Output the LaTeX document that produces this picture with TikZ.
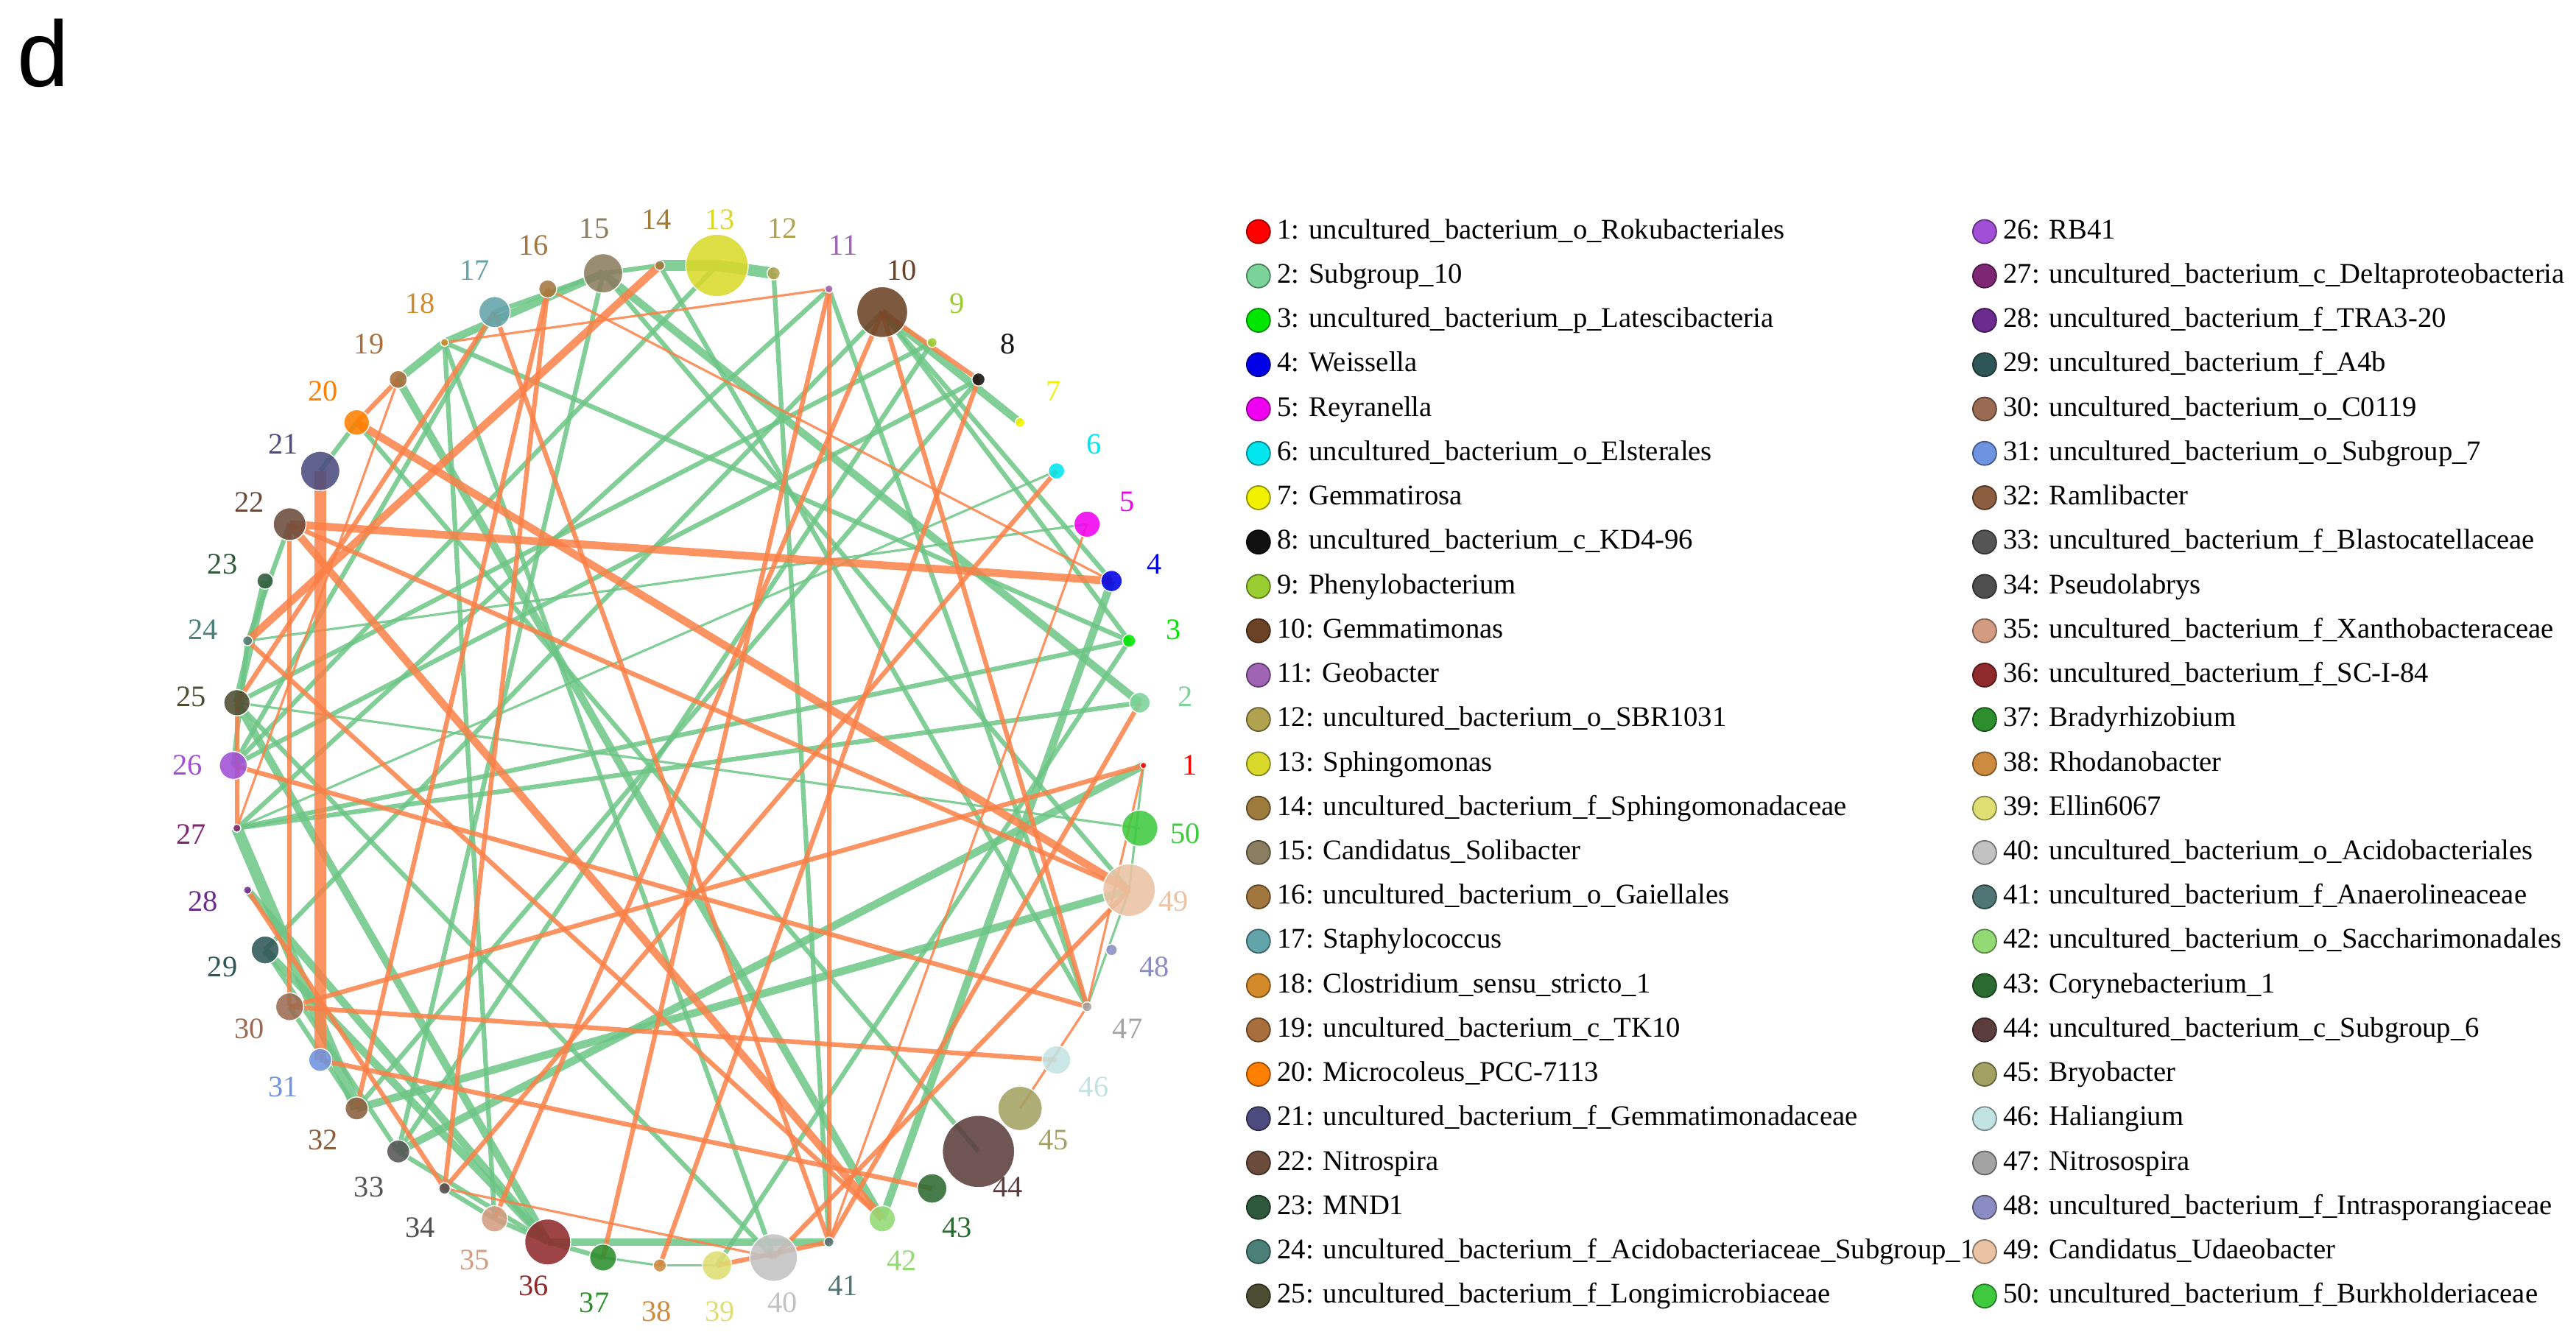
\documentclass[tikz,border=0pt]{standalone}
\usepackage{fontspec}
\setmainfont{Liberation Serif}
\newfontfamily\headfont{Liberation Sans}
\usetikzlibrary{positioning,backgrounds}
\definecolor{gcol}{HTML}{6CC585}
\definecolor{ocol}{HTML}{FB8047}
\definecolor{c1}{HTML}{FF0000}
\definecolor{c2}{HTML}{7BD39A}
\definecolor{c3}{HTML}{00E600}
\definecolor{c4}{HTML}{0000E6}
\definecolor{c5}{HTML}{F000F0}
\definecolor{c6}{HTML}{00E5EE}
\definecolor{c7}{HTML}{F2F200}
\definecolor{c8}{HTML}{111111}
\definecolor{c9}{HTML}{9ACD32}
\definecolor{c10}{HTML}{6B4226}
\definecolor{c11}{HTML}{A064B4}
\definecolor{c12}{HTML}{B0A24E}
\definecolor{c13}{HTML}{D9D92B}
\definecolor{c14}{HTML}{9C7B3C}
\definecolor{c15}{HTML}{8B7D60}
\definecolor{c16}{HTML}{A2773F}
\definecolor{c17}{HTML}{63A3AA}
\definecolor{c18}{HTML}{D28A2A}
\definecolor{c19}{HTML}{A86E3C}
\definecolor{c20}{HTML}{FF7F00}
\definecolor{c21}{HTML}{4B4B7D}
\definecolor{c22}{HTML}{6B4B3B}
\definecolor{c23}{HTML}{2E5A3B}
\definecolor{c24}{HTML}{4B8079}
\definecolor{c25}{HTML}{4D4D33}
\definecolor{c26}{HTML}{A04FD6}
\definecolor{c27}{HTML}{7D2774}
\definecolor{c28}{HTML}{6B2B8F}
\definecolor{c29}{HTML}{2F5656}
\definecolor{c30}{HTML}{9A6B52}
\definecolor{c31}{HTML}{6E93E0}
\definecolor{c32}{HTML}{8A5E3E}
\definecolor{c33}{HTML}{555555}
\definecolor{c34}{HTML}{4F4F4F}
\definecolor{c35}{HTML}{D39C82}
\definecolor{c36}{HTML}{8E2A2C}
\definecolor{c37}{HTML}{2C8E2C}
\definecolor{c38}{HTML}{CD8B3F}
\definecolor{c39}{HTML}{DEDE72}
\definecolor{c40}{HTML}{C2C2C2}
\definecolor{c41}{HTML}{4F7575}
\definecolor{c42}{HTML}{93DA74}
\definecolor{c43}{HTML}{2B6A31}
\definecolor{c44}{HTML}{5C3D3D}
\definecolor{c45}{HTML}{A3A263}
\definecolor{c46}{HTML}{C3E2E2}
\definecolor{c47}{HTML}{A3A3A3}
\definecolor{c48}{HTML}{8C8CC4}
\definecolor{c49}{HTML}{EAC3A4}
\definecolor{c50}{HTML}{3FC93F}
\begin{document}
\begin{tikzpicture}[x=0.022309cm, y=-0.022309cm,
        taxon/.style={circle, inner sep=0pt, draw=white, line width=0.4pt, fill opacity=0.88},
        sz/.style={minimum size=#1*0.04462cm},
        num/.style={inner sep=0pt, font=\fontsize{11.5}{12}\selectfont},
        keydot/.style={circle, inner sep=0pt, minimum size=0.32cm, line width=0.5pt},
        keytext/.style={inner sep=0pt, text height=8pt, text depth=2.5pt, font=\fontsize{11}{13}\selectfont},
        gthin/.style={draw=gcol, line width=0.9pt, opacity=0.85},
        gmid/.style={draw=gcol, line width=1.8pt, opacity=0.85},
        gthick/.style={draw=gcol, line width=3pt, opacity=0.85},
        gfat/.style={draw=gcol, line width=4.4pt, opacity=0.85},
        othin/.style={draw=ocol, line width=0.9pt, opacity=0.85},
        omid/.style={draw=ocol, line width=1.8pt, opacity=0.85},
        othick/.style={draw=ocol, line width=3pt, opacity=0.85},
        ofat/.style={draw=ocol, line width=4.4pt, opacity=0.85},
      ]
      \useasboundingbox (0,0) rectangle (1568,817.6);
      \node[anchor=base west, inner sep=0pt, font=\headfont\fontsize{36}{40}\selectfont] (tag) at (10,52.5) {d};

      %Nodes
      \node[taxon, sz=2, fill=c1] (n1) at (696,466) {};
      \node[taxon, sz=6.3, fill=c2] (n2) at (693.8,427.8) {};
      \node[taxon, sz=4, fill=c3] (n3) at (687.3,390.1) {};
      \node[taxon, sz=6.5, fill=c4] (n4) at (676.6,353.7) {};
      \node[taxon, sz=8, fill=c5] (n5) at (661.7,319.1) {};
      \node[taxon, sz=5, fill=c6] (n6) at (643.1,286.7) {};
      \node[taxon, sz=3, fill=c7] (n7) at (620.9,257.2) {};
      \node[taxon, sz=4, fill=c8] (n8) at (595.6,231.0) {};
      \node[taxon, sz=3, fill=c9] (n9) at (567.4,208.5) {};
      \node[taxon, sz=15.5, fill=c10] (n10) at (537.0,190.0) {};
      \node[taxon, sz=2.5, fill=c11] (n11) at (504.6,175.9) {};
      \node[taxon, sz=4, fill=c12] (n12) at (470.9,166.4) {};
      \node[taxon, sz=19, fill=c13] (n13) at (436.4,161.6) {};
      \node[taxon, sz=3, fill=c14] (n14) at (401.6,161.6) {};
      \node[taxon, sz=12, fill=c15] (n15) at (367.1,166.4) {};
      \node[taxon, sz=5.5, fill=c16] (n16) at (333.4,175.9) {};
      \node[taxon, sz=9.5, fill=c17] (n17) at (301.0,190.0) {};
      \node[taxon, sz=2.5, fill=c18] (n18) at (270.6,208.5) {};
      \node[taxon, sz=5.5, fill=c19] (n19) at (242.4,231.0) {};
      \node[taxon, sz=7.8, fill=c20] (n20) at (217.1,257.2) {};
      \node[taxon, sz=12, fill=c21] (n21) at (194.9,286.7) {};
      \node[taxon, sz=10, fill=c22] (n22) at (176.3,319.1) {};
      \node[taxon, sz=5, fill=c23] (n23) at (161.4,353.7) {};
      \node[taxon, sz=3, fill=c24] (n24) at (150.7,390.1) {};
      \node[taxon, sz=8, fill=c25] (n25) at (144.2,427.8) {};
      \node[taxon, sz=8.5, fill=c26] (n26) at (142,466) {};
      \node[taxon, sz=2.5, fill=c27] (n27) at (144.2,504.2) {};
      \node[taxon, sz=2.5, fill=c28] (n28) at (150.7,541.9) {};
      \node[taxon, sz=8.5, fill=c29] (n29) at (161.4,578.3) {};
      \node[taxon, sz=8.5, fill=c30] (n30) at (176.3,612.9) {};
      \node[taxon, sz=7, fill=c31] (n31) at (194.9,645.3) {};
      \node[taxon, sz=7, fill=c32] (n32) at (217.1,674.8) {};
      \node[taxon, sz=7, fill=c33] (n33) at (242.4,701.0) {};
      \node[taxon, sz=3.5, fill=c34] (n34) at (270.6,723.5) {};
      \node[taxon, sz=8, fill=c35] (n35) at (301.0,742.0) {};
      \node[taxon, sz=14, fill=c36] (n36) at (333.4,756.1) {};
      \node[taxon, sz=8.2, fill=c37] (n37) at (367.1,765.6) {};
      \node[taxon, sz=4, fill=c38] (n38) at (401.6,770.4) {};
      \node[taxon, sz=9, fill=c39] (n39) at (436.4,770.4) {};
      \node[taxon, sz=14.5, fill=c40] (n40) at (470.9,765.6) {};
      \node[taxon, sz=3, fill=c41] (n41) at (504.6,756.1) {};
      \node[taxon, sz=8, fill=c42] (n42) at (537.0,742.0) {};
      \node[taxon, sz=9, fill=c43] (n43) at (567.4,723.5) {};
      \node[taxon, sz=22, fill=c44] (n44) at (595.6,701.0) {};
      \node[taxon, sz=13.5, fill=c45] (n45) at (620.9,674.8) {};
      \node[taxon, sz=8.7, fill=c46] (n46) at (643.1,645.3) {};
      \node[taxon, sz=3, fill=c47] (n47) at (661.7,612.9) {};
      \node[taxon, sz=3.5, fill=c48] (n48) at (676.6,578.3) {};
      \node[taxon, sz=16, fill=c49] (n49) at (687.3,541.9) {};
      \node[taxon, sz=11, fill=c50] (n50) at (693.8,504.2) {};

      %Numbers
      \node[num, text=c1] (l1) at (724,466) {1};
      \node[num, text=c2] (l2) at (721.6,424.3) {2};
      \node[num, text=c3] (l3) at (714.4,383.2) {3};
      \node[num, text=c4] (l4) at (702.6,343.4) {4};
      \node[num, text=c5] (l5) at (686.3,305.6) {5};
      \node[num, text=c6] (l6) at (665.7,270.3) {6};
      \node[num, text=c7] (l7) at (641.3,238.1) {7};
      \node[num, text=c8] (l8) at (613.4,209.4) {8};
      \node[num, text=c9] (l9) at (582.4,184.8) {9};
      \node[num, text=c10] (l10) at (548.9,164.7) {10};
      \node[num, text=c11] (l11) at (513.2,149.3) {11};
      \node[num, text=c12] (l12) at (476.2,138.9) {12};
      \node[num, text=c13] (l13) at (438.2,133.7) {13};
      \node[num, text=c14] (l14) at (399.8,133.7) {14};
      \node[num, text=c15] (l15) at (361.8,138.9) {15};
      \node[num, text=c16] (l16) at (324.8,149.3) {16};
      \node[num, text=c17] (l17) at (289.1,164.7) {17};
      \node[num, text=c18] (l18) at (255.6,184.8) {18};
      \node[num, text=c19] (l19) at (224.6,209.4) {19};
      \node[num, text=c20] (l20) at (196.7,238.1) {20};
      \node[num, text=c21] (l21) at (172.3,270.3) {21};
      \node[num, text=c22] (l22) at (151.7,305.6) {22};
      \node[num, text=c23] (l23) at (135.4,343.4) {23};
      \node[num, text=c24] (l24) at (123.6,383.2) {24};
      \node[num, text=c25] (l25) at (116.4,424.3) {25};
      \node[num, text=c26] (l26) at (114,466) {26};
      \node[num, text=c27] (l27) at (116.4,507.7) {27};
      \node[num, text=c28] (l28) at (123.6,548.8) {28};
      \node[num, text=c29] (l29) at (135.4,588.6) {29};
      \node[num, text=c30] (l30) at (151.7,626.4) {30};
      \node[num, text=c31] (l31) at (172.3,661.7) {31};
      \node[num, text=c32] (l32) at (196.7,693.9) {32};
      \node[num, text=c33] (l33) at (224.6,722.6) {33};
      \node[num, text=c34] (l34) at (255.6,747.2) {34};
      \node[num, text=c35] (l35) at (289.1,767.3) {35};
      \node[num, text=c36] (l36) at (324.8,782.7) {36};
      \node[num, text=c37] (l37) at (361.8,793.1) {37};
      \node[num, text=c38] (l38) at (399.8,798.3) {38};
      \node[num, text=c39] (l39) at (438.2,798.3) {39};
      \node[num, text=c40] (l40) at (476.2,793.1) {40};
      \node[num, text=c41] (l41) at (513.2,782.7) {41};
      \node[num, text=c42] (l42) at (548.9,767.3) {42};
      \node[num, text=c43] (l43) at (582.4,747.2) {43};
      \node[num, text=c44] (l44) at (613.4,722.6) {44};
      \node[num, text=c45] (l45) at (641.3,693.9) {45};
      \node[num, text=c46] (l46) at (665.7,661.7) {46};
      \node[num, text=c47] (l47) at (686.3,626.4) {47};
      \node[num, text=c48] (l48) at (702.6,588.6) {48};
      \node[num, text=c49] (l49) at (714.4,548.8) {49};
      \node[num, text=c50] (l50) at (721.6,507.7) {50};

      %Lines
      \begin{scope}[on background layer]
      \draw[gthin] (n6.center) -- (n27.center);
      \draw[gthin] (n5.center) -- (n24.center);
      \draw[gthin] (n25.center) -- (n50.center);
      \draw[gthin] (n1.center) -- (n49.center);
      \draw[gthin] (n47.center) -- (n49.center);
      \draw[gthin] (n37.center) -- (n38.center);
      \draw[gthin] (n38.center) -- (n39.center);

      \draw[gmid] (n14.center) -- (n15.center);
      \draw[gmid] (n15.center) -- (n17.center);
      \draw[gmid] (n20.center) -- (n21.center);
      \draw[gmid] (n12.center) -- (n41.center);
      \draw[gmid] (n11.center) -- (n27.center);
      \draw[gmid] (n11.center) -- (n47.center);
      \draw[gmid] (n10.center) -- (n29.center);
      \draw[gmid] (n10.center) -- (n4.center);
      \draw[gmid] (n10.center) -- (n3.center);
      \draw[gmid] (n9.center) -- (n33.center);
      \draw[gmid] (n3.center) -- (n27.center);
      \draw[gmid] (n18.center) -- (n3.center);
      \draw[gmid] (n3.center) -- (n39.center);
      \draw[gmid] (n13.center) -- (n26.center);
      \draw[gmid] (n14.center) -- (n47.center);
      \draw[gmid] (n15.center) -- (n33.center);
      \draw[gmid] (n15.center) -- (n49.center);
      \draw[gmid] (n18.center) -- (n35.center);
      \draw[gmid] (n18.center) -- (n40.center);
      \draw[gmid] (n25.center) -- (n40.center);
      \draw[gmid] (n17.center) -- (n26.center);
      \draw[gmid] (n2.center) -- (n27.center);
      \draw[gmid] (n29.center) -- (n33.center);
      \draw[gmid] (n20.center) -- (n44.center);
      \draw[gmid] (n9.center) -- (n25.center);
      \draw[gmid] (n8.center) -- (n26.center);
      \draw[gmid] (n8.center) -- (n32.center);
      \draw[gmid] (n22.center) -- (n24.center);
      \draw[gmid] (n24.center) -- (n26.center);
      \draw[gmid] (n30.center) -- (n32.center);
      \draw[gmid] (n34.center) -- (n35.center);
      \draw[gmid] (n36.center) -- (n37.center);
      \draw[gmid] (n33.center) -- (n36.center);
      \draw[gmid] (n35.center) -- (n36.center);

      \draw[gthick] (n15.center) -- (n2.center);
      \draw[gthick] (n15.center) -- (n18.center);
      \draw[gthick] (n18.center) -- (n19.center);
      \draw[gthick] (n10.center) -- (n7.center);
      \draw[gthick] (n4.center) -- (n42.center);
      \draw[gthick] (n25.center) -- (n36.center);
      \draw[gthick] (n28.center) -- (n36.center);
      \draw[gthick] (n29.center) -- (n36.center);
      \draw[gthick] (n32.center) -- (n49.center);
      \draw[gthick] (n1.center) -- (n33.center);
      \draw[gthick] (n36.center) -- (n41.center);
      \draw[gthick] (n19.center) -- (n42.center);
      \draw[gthick] (n23.center) -- (n25.center);

      \draw[gfat] (n13.center) -- (n14.center);
      \draw[gfat] (n13.center) -- (n12.center);
      \draw[gfat] (n27.center) -- (n32.center);

      \draw[othin] (n11.center) -- (n18.center);
      \draw[othin] (n5.center) -- (n41.center);
      \draw[othin] (n16.center) -- (n4.center);
      \draw[othin] (n19.center) -- (n27.center);
      \draw[othin] (n1.center) -- (n47.center);
      \draw[othin] (n34.center) -- (n40.center);
      \draw[othin] (n45.center) -- (n47.center);

      \draw[omid] (n22.center) -- (n30.center);
      \draw[omid] (n11.center) -- (n41.center);
      \draw[omid] (n11.center) -- (n37.center);
      \draw[omid] (n10.center) -- (n8.center);
      \draw[omid] (n10.center) -- (n35.center);
      \draw[omid] (n10.center) -- (n47.center);
      \draw[omid] (n8.center) -- (n38.center);
      \draw[omid] (n6.center) -- (n34.center);
      \draw[omid] (n16.center) -- (n34.center);
      \draw[omid] (n16.center) -- (n32.center);
      \draw[omid] (n17.center) -- (n25.center);
      \draw[omid] (n17.center) -- (n41.center);
      \draw[omid] (n19.center) -- (n20.center);
      \draw[omid] (n22.center) -- (n49.center);
      \draw[omid] (n24.center) -- (n42.center);
      \draw[omid] (n25.center) -- (n27.center);
      \draw[omid] (n26.center) -- (n47.center);
      \draw[omid] (n1.center) -- (n30.center);
      \draw[omid] (n2.center) -- (n41.center);
      \draw[omid] (n30.center) -- (n46.center);
      \draw[omid] (n31.center) -- (n43.center);
      \draw[omid] (n28.center) -- (n34.center);
      \draw[omid] (n39.center) -- (n41.center);
      \draw[omid] (n40.center) -- (n49.center);

      \draw[othick] (n20.center) -- (n49.center);
      \draw[othick] (n22.center) -- (n4.center);
      \draw[othick] (n14.center) -- (n24.center);
      \draw[othick] (n22.center) -- (n42.center);

      \draw[ofat] (n21.center) -- (n31.center);
      \end{scope}

      %Legend
      \node[keydot, fill=c1, draw=c1!60!black] (k1) at (766,141) {};
      \node[keytext, right=0.08cm of k1] (t1) {1: uncultured\_bacterium\_o\_Rokubacteriales};
      \node[keydot, fill=c2, draw=c2!60!black] (k2) at (766,168) {};
      \node[keytext, right=0.08cm of k2] (t2) {2: Subgroup\_10};
      \node[keydot, fill=c3, draw=c3!60!black] (k3) at (766,195) {};
      \node[keytext, right=0.08cm of k3] (t3) {3: uncultured\_bacterium\_p\_Latescibacteria};
      \node[keydot, fill=c4, draw=c4!60!black] (k4) at (766,222) {};
      \node[keytext, right=0.08cm of k4] (t4) {4: Weissella};
      \node[keydot, fill=c5, draw=c5!60!black] (k5) at (766,249) {};
      \node[keytext, right=0.08cm of k5] (t5) {5: Reyranella};
      \node[keydot, fill=c6, draw=c6!60!black] (k6) at (766,276) {};
      \node[keytext, right=0.08cm of k6] (t6) {6: uncultured\_bacterium\_o\_Elsterales};
      \node[keydot, fill=c7, draw=c7!60!black] (k7) at (766,303) {};
      \node[keytext, right=0.08cm of k7] (t7) {7: Gemmatirosa};
      \node[keydot, fill=c8, draw=c8!60!black] (k8) at (766,330) {};
      \node[keytext, right=0.08cm of k8] (t8) {8: uncultured\_bacterium\_c\_KD4-96};
      \node[keydot, fill=c9, draw=c9!60!black] (k9) at (766,357) {};
      \node[keytext, right=0.08cm of k9] (t9) {9: Phenylobacterium};
      \node[keydot, fill=c10, draw=c10!60!black] (k10) at (766,384) {};
      \node[keytext, right=0.08cm of k10] (t10) {10: Gemmatimonas};
      \node[keydot, fill=c11, draw=c11!60!black] (k11) at (766,411) {};
      \node[keytext, right=0.08cm of k11] (t11) {11: Geobacter};
      \node[keydot, fill=c12, draw=c12!60!black] (k12) at (766,438) {};
      \node[keytext, right=0.08cm of k12] (t12) {12: uncultured\_bacterium\_o\_SBR1031};
      \node[keydot, fill=c13, draw=c13!60!black] (k13) at (766,465) {};
      \node[keytext, right=0.08cm of k13] (t13) {13: Sphingomonas};
      \node[keydot, fill=c14, draw=c14!60!black] (k14) at (766,492) {};
      \node[keytext, right=0.08cm of k14] (t14) {14: uncultured\_bacterium\_f\_Sphingomonadaceae};
      \node[keydot, fill=c15, draw=c15!60!black] (k15) at (766,519) {};
      \node[keytext, right=0.08cm of k15] (t15) {15: Candidatus\_Solibacter};
      \node[keydot, fill=c16, draw=c16!60!black] (k16) at (766,546) {};
      \node[keytext, right=0.08cm of k16] (t16) {16: uncultured\_bacterium\_o\_Gaiellales};
      \node[keydot, fill=c17, draw=c17!60!black] (k17) at (766,573) {};
      \node[keytext, right=0.08cm of k17] (t17) {17: Staphylococcus};
      \node[keydot, fill=c18, draw=c18!60!black] (k18) at (766,600) {};
      \node[keytext, right=0.08cm of k18] (t18) {18: Clostridium\_sensu\_stricto\_1};
      \node[keydot, fill=c19, draw=c19!60!black] (k19) at (766,627) {};
      \node[keytext, right=0.08cm of k19] (t19) {19: uncultured\_bacterium\_c\_TK10};
      \node[keydot, fill=c20, draw=c20!60!black] (k20) at (766,654) {};
      \node[keytext, right=0.08cm of k20] (t20) {20: Microcoleus\_PCC-7113};
      \node[keydot, fill=c21, draw=c21!60!black] (k21) at (766,681) {};
      \node[keytext, right=0.08cm of k21] (t21) {21: uncultured\_bacterium\_f\_Gemmatimonadaceae};
      \node[keydot, fill=c22, draw=c22!60!black] (k22) at (766,708) {};
      \node[keytext, right=0.08cm of k22] (t22) {22: Nitrospira};
      \node[keydot, fill=c23, draw=c23!60!black] (k23) at (766,735) {};
      \node[keytext, right=0.08cm of k23] (t23) {23: MND1};
      \node[keydot, fill=c24, draw=c24!60!black] (k24) at (766,762) {};
      \node[keytext, right=0.08cm of k24] (t24) {24: uncultured\_bacterium\_f\_Acidobacteriaceae\_Subgroup\_1};
      \node[keydot, fill=c25, draw=c25!60!black] (k25) at (766,789) {};
      \node[keytext, right=0.08cm of k25] (t25) {25: uncultured\_bacterium\_f\_Longimicrobiaceae};

      \node[keydot, fill=c26, draw=c26!60!black] (k26) at (1208,141) {};
      \node[keytext, right=0.08cm of k26] (t26) {26: RB41};
      \node[keydot, fill=c27, draw=c27!60!black] (k27) at (1208,168) {};
      \node[keytext, right=0.08cm of k27] (t27) {27: uncultured\_bacterium\_c\_Deltaproteobacteria};
      \node[keydot, fill=c28, draw=c28!60!black] (k28) at (1208,195) {};
      \node[keytext, right=0.08cm of k28] (t28) {28: uncultured\_bacterium\_f\_TRA3-20};
      \node[keydot, fill=c29, draw=c29!60!black] (k29) at (1208,222) {};
      \node[keytext, right=0.08cm of k29] (t29) {29: uncultured\_bacterium\_f\_A4b};
      \node[keydot, fill=c30, draw=c30!60!black] (k30) at (1208,249) {};
      \node[keytext, right=0.08cm of k30] (t30) {30: uncultured\_bacterium\_o\_C0119};
      \node[keydot, fill=c31, draw=c31!60!black] (k31) at (1208,276) {};
      \node[keytext, right=0.08cm of k31] (t31) {31: uncultured\_bacterium\_o\_Subgroup\_7};
      \node[keydot, fill=c32, draw=c32!60!black] (k32) at (1208,303) {};
      \node[keytext, right=0.08cm of k32] (t32) {32: Ramlibacter};
      \node[keydot, fill=c33, draw=c33!60!black] (k33) at (1208,330) {};
      \node[keytext, right=0.08cm of k33] (t33) {33: uncultured\_bacterium\_f\_Blastocatellaceae};
      \node[keydot, fill=c34, draw=c34!60!black] (k34) at (1208,357) {};
      \node[keytext, right=0.08cm of k34] (t34) {34: Pseudolabrys};
      \node[keydot, fill=c35, draw=c35!60!black] (k35) at (1208,384) {};
      \node[keytext, right=0.08cm of k35] (t35) {35: uncultured\_bacterium\_f\_Xanthobacteraceae};
      \node[keydot, fill=c36, draw=c36!60!black] (k36) at (1208,411) {};
      \node[keytext, right=0.08cm of k36] (t36) {36: uncultured\_bacterium\_f\_SC-I-84};
      \node[keydot, fill=c37, draw=c37!60!black] (k37) at (1208,438) {};
      \node[keytext, right=0.08cm of k37] (t37) {37: Bradyrhizobium};
      \node[keydot, fill=c38, draw=c38!60!black] (k38) at (1208,465) {};
      \node[keytext, right=0.08cm of k38] (t38) {38: Rhodanobacter};
      \node[keydot, fill=c39, draw=c39!60!black] (k39) at (1208,492) {};
      \node[keytext, right=0.08cm of k39] (t39) {39: Ellin6067};
      \node[keydot, fill=c40, draw=c40!60!black] (k40) at (1208,519) {};
      \node[keytext, right=0.08cm of k40] (t40) {40: uncultured\_bacterium\_o\_Acidobacteriales};
      \node[keydot, fill=c41, draw=c41!60!black] (k41) at (1208,546) {};
      \node[keytext, right=0.08cm of k41] (t41) {41: uncultured\_bacterium\_f\_Anaerolineaceae};
      \node[keydot, fill=c42, draw=c42!60!black] (k42) at (1208,573) {};
      \node[keytext, right=0.08cm of k42] (t42) {42: uncultured\_bacterium\_o\_Saccharimonadales};
      \node[keydot, fill=c43, draw=c43!60!black] (k43) at (1208,600) {};
      \node[keytext, right=0.08cm of k43] (t43) {43: Corynebacterium\_1};
      \node[keydot, fill=c44, draw=c44!60!black] (k44) at (1208,627) {};
      \node[keytext, right=0.08cm of k44] (t44) {44: uncultured\_bacterium\_c\_Subgroup\_6};
      \node[keydot, fill=c45, draw=c45!60!black] (k45) at (1208,654) {};
      \node[keytext, right=0.08cm of k45] (t45) {45: Bryobacter};
      \node[keydot, fill=c46, draw=c46!60!black] (k46) at (1208,681) {};
      \node[keytext, right=0.08cm of k46] (t46) {46: Haliangium};
      \node[keydot, fill=c47, draw=c47!60!black] (k47) at (1208,708) {};
      \node[keytext, right=0.08cm of k47] (t47) {47: Nitrosospira};
      \node[keydot, fill=c48, draw=c48!60!black] (k48) at (1208,735) {};
      \node[keytext, right=0.08cm of k48] (t48) {48: uncultured\_bacterium\_f\_Intrasporangiaceae};
      \node[keydot, fill=c49, draw=c49!60!black] (k49) at (1208,762) {};
      \node[keytext, right=0.08cm of k49] (t49) {49: Candidatus\_Udaeobacter};
      \node[keydot, fill=c50, draw=c50!60!black] (k50) at (1208,789) {};
      \node[keytext, right=0.08cm of k50] (t50) {50: uncultured\_bacterium\_f\_Burkholderiaceae};
\end{tikzpicture}
\end{document}
